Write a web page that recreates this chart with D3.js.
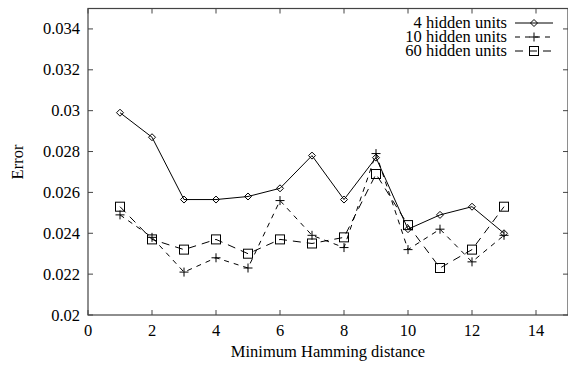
<!DOCTYPE html>
<html>
<head>
<meta charset="utf-8">
<script src="https://cdn.jsdelivr.net/npm/d3@7"></script>
<style>
  body { margin: 0; background: #fff; }
</style>
</head>
<body>
<svg id="chart" width="568" height="365"></svg>
<script>
// data
const distances = [1, 2, 3, 4, 5, 6, 7, 8, 9, 10, 11, 12, 13];
const hidden4 = [0.0299, 0.0287, 0.02565, 0.02565, 0.0258, 0.0262, 0.0278, 0.02565, 0.0277, 0.0242, 0.0249, 0.0253, 0.0240];
const hidden10 = [0.0249, 0.0238, 0.0221, 0.0228, 0.0223, 0.0256, 0.0239, 0.0233, 0.0279, 0.0232, 0.0242, 0.0226, 0.0239];
const hidden60 = [0.0253, 0.0237, 0.0232, 0.0237, 0.0230, 0.0237, 0.0235, 0.0238, 0.0269, 0.0244, 0.0223, 0.0232, 0.0253];
const xTicks = [0, 2, 4, 6, 8, 10, 12, 14];
const yTicks = [0.02, 0.022, 0.024, 0.026, 0.028, 0.03, 0.032, 0.034];
const seriesNames = ["4 hidden units", "10 hidden units", "60 hidden units"];

const svg = d3.select("#chart");
const m = { left: 88, right: 568, top: 8.5, bottom: 315 };
const x = d3.scaleLinear().domain([0, 15]).range([m.left, m.right]);
const y = d3.scaleLinear().domain([0.02, 0.035]).range([m.bottom, m.top]);
const tl = 5; // inward tick length
const axisColor = "#444";
const fs = 16.5;
const font = '"Liberation Serif", monospace';

const g = svg.append("g");

const label = (xx, yy, anchor, txt) => g.append("text").attr("x", xx).attr("y", yy)
  .attr("text-anchor", anchor).attr("font-size", fs).style("font-family", font)
  .attr("fill", "#000").text(txt);

// frame
g.append("rect").attr("x", m.left).attr("y", m.top)
  .attr("width", m.right - m.left).attr("height", m.bottom - m.top)
  .attr("fill", "none").attr("stroke", axisColor).attr("stroke-width", 1.2);

// x ticks (bottom and top, inward)
xTicks.forEach(t => {
  const px = x(t);
  g.append("line").attr("x1", px).attr("x2", px).attr("y1", m.bottom).attr("y2", m.bottom - tl).attr("stroke", axisColor);
  g.append("line").attr("x1", px).attr("x2", px).attr("y1", m.top).attr("y2", m.top + tl).attr("stroke", axisColor);
  label(px, m.bottom + 21, "middle", d3.format("d")(t));
});
// y ticks (left and right, inward)
yTicks.forEach(t => {
  const py = y(t);
  g.append("line").attr("x1", m.left).attr("x2", m.left + tl).attr("y1", py).attr("y2", py).attr("stroke", axisColor);
  g.append("line").attr("x1", m.right).attr("x2", m.right - tl).attr("y1", py).attr("y2", py).attr("stroke", axisColor);
  label(m.left - 8, py + 5.5, "end", String(+t.toFixed(3)));
});

// axis titles
label(328, 357, "middle", "Minimum Hamming distance");
g.append("text").attr("transform", "translate(23,162) rotate(-90)").attr("text-anchor", "middle")
  .attr("font-size", fs).style("font-family", font).text("Error");

const line = d3.line().x(d => x(d[0])).y(d => y(d[1]));

const series = [
  { name: seriesNames[0], vals: hidden4, dash: null, marker: "diamond" },
  { name: seriesNames[1], vals: hidden10, dash: "5,5", marker: "plus" },
  { name: seriesNames[2], vals: hidden60, dash: "8,6", marker: "square" }
];

function drawMarker(sel, type, cx, cy) {
  if (type === "diamond") {
    sel.append("path").attr("d", `M${cx},${cy - 3.5}L${cx + 3.5},${cy}L${cx},${cy + 3.5}L${cx - 3.5},${cy}Z`)
      .attr("fill", "none").attr("stroke", "#000").attr("stroke-width", 1);
  } else if (type === "plus") {
    sel.append("path").attr("d", `M${cx - 4.5},${cy}H${cx + 4.5}M${cx},${cy - 4.5}V${cy + 4.5}`)
      .attr("fill", "none").attr("stroke", "#000").attr("stroke-width", 1);
  } else {
    sel.append("rect").attr("x", cx - 4.5).attr("y", cy - 4.5).attr("width", 9).attr("height", 9)
      .attr("fill", "none").attr("stroke", "#000").attr("stroke-width", 1);
  }
}

series.forEach(s => {
  const pts = distances.map((d, i) => [d, s.vals[i]]);
  g.append("path").datum(pts).attr("d", line).attr("fill", "none")
    .attr("stroke", "#000").attr("stroke-width", 1)
    .attr("stroke-dasharray", s.dash);
  pts.forEach(p => drawMarker(g, s.marker, x(p[0]), y(p[1])));
});

// legend
series.forEach((s, i) => {
  const ly = 23 + i * 14;
  label(507, ly + 5, "end", s.name);
  g.append("line").attr("x1", 515).attr("x2", 553).attr("y1", ly).attr("y2", ly)
    .attr("stroke", "#000").attr("stroke-width", 1).attr("stroke-dasharray", s.dash);
  drawMarker(g, s.marker, 534, ly);
});
</script>
</body>
</html>
